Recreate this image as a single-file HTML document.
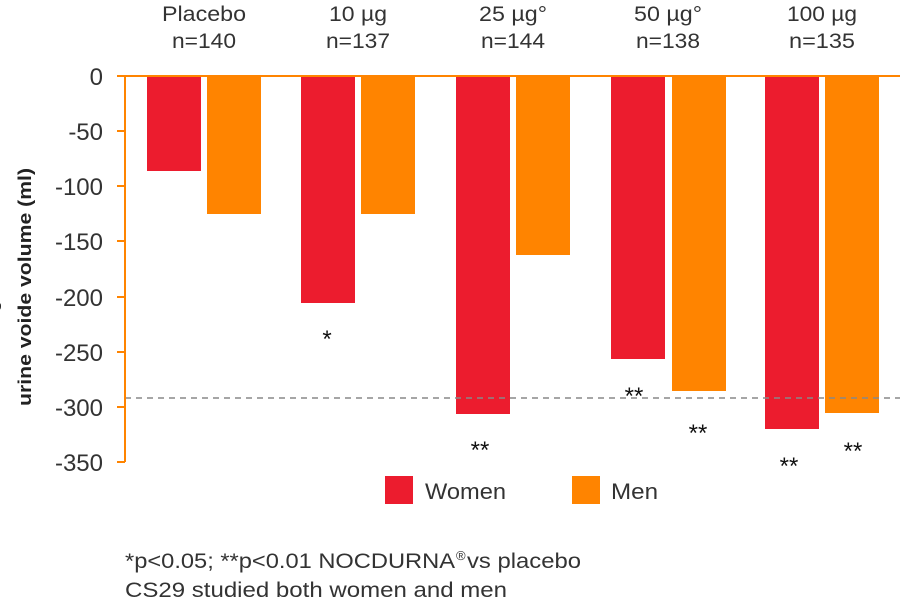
<!DOCTYPE html>
<html><head><meta charset="utf-8"><style>
body{margin:0;background:#fff;width:900px;height:600px;overflow:hidden;font-family:"Liberation Sans",sans-serif}
</style></head><body>
<svg width="900" height="600" xmlns="http://www.w3.org/2000/svg" font-family="Liberation Sans, sans-serif">
<g font-size="21" fill="#333" text-anchor="middle">
<text x="204" y="21" textLength="84" lengthAdjust="spacingAndGlyphs">Placebo</text><text x="204" y="48" textLength="64" lengthAdjust="spacingAndGlyphs">n=140</text>
<text x="358" y="21" textLength="58" lengthAdjust="spacingAndGlyphs">10 µg</text><text x="358" y="48" textLength="64" lengthAdjust="spacingAndGlyphs">n=137</text>
<text x="513" y="21" textLength="68" lengthAdjust="spacingAndGlyphs">25 µg°</text><text x="513" y="48" textLength="64" lengthAdjust="spacingAndGlyphs">n=144</text>
<text x="668" y="21" textLength="68" lengthAdjust="spacingAndGlyphs">50 µg°</text><text x="668" y="48" textLength="64" lengthAdjust="spacingAndGlyphs">n=138</text>
<text x="822" y="21" textLength="70" lengthAdjust="spacingAndGlyphs">100 µg</text><text x="822" y="48" textLength="66" lengthAdjust="spacingAndGlyphs">n=135</text>
</g>
<g fill="#ec1c2e">
<rect x="147" y="77" width="54" height="94"/>
<rect x="301" y="77" width="54" height="226"/>
<rect x="456" y="77" width="54" height="337"/>
<rect x="611" y="77" width="54" height="282"/>
<rect x="765" y="77" width="54" height="352"/>
</g>
<g fill="#ff8400">
<rect x="207" y="77" width="54" height="137"/>
<rect x="361" y="77" width="54" height="137"/>
<rect x="516" y="77" width="54" height="178"/>
<rect x="672" y="77" width="54" height="314"/>
<rect x="825" y="77" width="54" height="336"/>
</g>
<line x1="125" y1="398" x2="900" y2="398" stroke="#888" stroke-width="1.5" stroke-dasharray="6,5"/>
<line x1="117" y1="76" x2="900" y2="76" stroke="#ff8400" stroke-width="2"/>
<line x1="125" y1="76" x2="125" y2="462" stroke="#ff8400" stroke-width="2"/>
<g stroke="#ff8400" stroke-width="2">
<line x1="117" y1="131" x2="125" y2="131"/><line x1="117" y1="186" x2="125" y2="186"/>
<line x1="117" y1="241" x2="125" y2="241"/><line x1="117" y1="297" x2="125" y2="297"/>
<line x1="117" y1="352" x2="125" y2="352"/><line x1="117" y1="407" x2="125" y2="407"/>
<line x1="117" y1="462" x2="125" y2="462"/>
</g>
<g font-size="24" fill="#333" text-anchor="end">
<text x="103" y="85">0</text><text x="103" y="140">-50</text><text x="103" y="195">-100</text>
<text x="103" y="250">-150</text><text x="103" y="306">-200</text><text x="103" y="361">-250</text>
<text x="103" y="416">-300</text><text x="103" y="471">-350</text>
</g>
<text transform="translate(31,287) rotate(-90)" text-anchor="middle" font-size="18" font-weight="bold" fill="#222" textLength="238" lengthAdjust="spacingAndGlyphs">urine voide volume (ml)</text>
<text transform="translate(-3,287) rotate(-90)" text-anchor="middle" font-size="18" font-weight="bold" fill="#222">Change in mean</text>
<g font-size="24" fill="#111" text-anchor="middle">
<text x="327" y="347">*</text>
<text x="480" y="458">**</text>
<text x="634" y="404">**</text>
<text x="698" y="441">**</text>
<text x="789" y="474">**</text>
<text x="853" y="459">**</text>
</g>
<rect x="385" y="476" width="28" height="28" fill="#ec1c2e"/>
<text x="425" y="499" font-size="22" fill="#333" textLength="81" lengthAdjust="spacingAndGlyphs">Women</text>
<rect x="572" y="476" width="28" height="28" fill="#ff8400"/>
<text x="611" y="499" font-size="22" fill="#333" textLength="47" lengthAdjust="spacingAndGlyphs">Men</text>
<text x="125" y="568" font-size="21" fill="#333" textLength="330" lengthAdjust="spacingAndGlyphs">*p&lt;0.05; **p&lt;0.01 NOCDURNA</text>
<text x="456" y="560" font-size="13" fill="#333">®</text>
<text x="467" y="568" font-size="21" fill="#333" textLength="114" lengthAdjust="spacingAndGlyphs">vs placebo</text>
<text x="125" y="597" font-size="21" fill="#333" textLength="382" lengthAdjust="spacingAndGlyphs">CS29 studied both women and men</text>
</svg>
</body></html>
